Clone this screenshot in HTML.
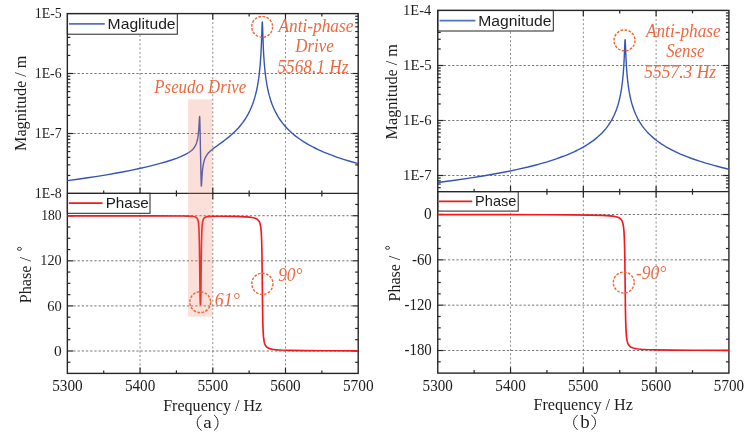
<!DOCTYPE html>
<html><head><meta charset="utf-8"><title>Frequency response</title><style>html,body{margin:0;padding:0;background:#fff;width:753px;height:433px;overflow:hidden}svg{display:block;will-change:transform}</style></head>
<body><svg width="753" height="433" viewBox="0 0 753 433"><defs><clipPath id="cL1"><rect x="66.55" y="13.6" width="292.45" height="179.8"/></clipPath><clipPath id="cL2"><rect x="66.55" y="193.4" width="292.45" height="179.99999999999997"/></clipPath><clipPath id="cR1"><rect x="436.95" y="10.4" width="292.74999999999994" height="181.29999999999998"/></clipPath><clipPath id="cR2"><rect x="436.95" y="191.7" width="292.74999999999994" height="181.40000000000003"/></clipPath></defs><rect x="0" y="0" width="753" height="433" fill="#fff"/>
<line x1="140.06" y1="13.60" x2="140.06" y2="193.40" stroke="#8a8a8a" stroke-width="1.0" stroke-dasharray="2 2.25"/>
<line x1="140.06" y1="193.40" x2="140.06" y2="373.40" stroke="#8a8a8a" stroke-width="1.0" stroke-dasharray="2 2.25"/>
<line x1="510.54" y1="10.40" x2="510.54" y2="191.70" stroke="#8a8a8a" stroke-width="1.0" stroke-dasharray="2 2.25"/>
<line x1="510.54" y1="191.70" x2="510.54" y2="373.10" stroke="#8a8a8a" stroke-width="1.0" stroke-dasharray="2 2.25"/>
<line x1="212.78" y1="13.60" x2="212.78" y2="193.40" stroke="#8a8a8a" stroke-width="1.0" stroke-dasharray="2 2.25"/>
<line x1="212.78" y1="193.40" x2="212.78" y2="373.40" stroke="#8a8a8a" stroke-width="1.0" stroke-dasharray="2 2.25"/>
<line x1="583.33" y1="10.40" x2="583.33" y2="191.70" stroke="#8a8a8a" stroke-width="1.0" stroke-dasharray="2 2.25"/>
<line x1="583.33" y1="191.70" x2="583.33" y2="373.10" stroke="#8a8a8a" stroke-width="1.0" stroke-dasharray="2 2.25"/>
<line x1="285.49" y1="13.60" x2="285.49" y2="193.40" stroke="#8a8a8a" stroke-width="1.0" stroke-dasharray="2 2.25"/>
<line x1="285.49" y1="193.40" x2="285.49" y2="373.40" stroke="#8a8a8a" stroke-width="1.0" stroke-dasharray="2 2.25"/>
<line x1="656.11" y1="10.40" x2="656.11" y2="191.70" stroke="#8a8a8a" stroke-width="1.0" stroke-dasharray="2 2.25"/>
<line x1="656.11" y1="191.70" x2="656.11" y2="373.10" stroke="#8a8a8a" stroke-width="1.0" stroke-dasharray="2 2.25"/>
<line x1="73.35" y1="73.50" x2="352.20" y2="73.50" stroke="#777777" stroke-width="1.0" stroke-dasharray="2.3 1.9"/>
<line x1="73.35" y1="133.50" x2="352.20" y2="133.50" stroke="#777777" stroke-width="1.0" stroke-dasharray="2.3 1.9"/>
<line x1="73.35" y1="215.73" x2="352.20" y2="215.73" stroke="#777777" stroke-width="1.0" stroke-dasharray="2.3 1.9"/>
<line x1="73.35" y1="260.82" x2="352.20" y2="260.82" stroke="#777777" stroke-width="1.0" stroke-dasharray="2.3 1.9"/>
<line x1="73.35" y1="305.91" x2="352.20" y2="305.91" stroke="#777777" stroke-width="1.0" stroke-dasharray="2.3 1.9"/>
<line x1="73.35" y1="351.00" x2="352.20" y2="351.00" stroke="#777777" stroke-width="1.0" stroke-dasharray="2.3 1.9"/>
<line x1="443.75" y1="65.50" x2="722.90" y2="65.50" stroke="#777777" stroke-width="1.0" stroke-dasharray="2.3 1.9"/>
<line x1="443.75" y1="120.50" x2="722.90" y2="120.50" stroke="#777777" stroke-width="1.0" stroke-dasharray="2.3 1.9"/>
<line x1="443.75" y1="175.50" x2="722.90" y2="175.50" stroke="#777777" stroke-width="1.0" stroke-dasharray="2.3 1.9"/>
<line x1="443.75" y1="214.50" x2="722.90" y2="214.50" stroke="#777777" stroke-width="1.0" stroke-dasharray="2.3 1.9"/>
<line x1="443.75" y1="259.84" x2="722.90" y2="259.84" stroke="#777777" stroke-width="1.0" stroke-dasharray="2.3 1.9"/>
<line x1="443.75" y1="305.17" x2="722.90" y2="305.17" stroke="#777777" stroke-width="1.0" stroke-dasharray="2.3 1.9"/>
<line x1="443.75" y1="350.51" x2="722.90" y2="350.51" stroke="#777777" stroke-width="1.0" stroke-dasharray="2.3 1.9"/>
<line x1="103.71" y1="193.40" x2="103.71" y2="190.40" stroke="#262626" stroke-width="1.2" />
<line x1="103.71" y1="13.60" x2="103.71" y2="16.60" stroke="#262626" stroke-width="1.2" />
<line x1="140.06" y1="193.40" x2="140.06" y2="187.60" stroke="#262626" stroke-width="1.2" />
<line x1="140.06" y1="13.60" x2="140.06" y2="19.40" stroke="#262626" stroke-width="1.2" />
<line x1="176.42" y1="193.40" x2="176.42" y2="190.40" stroke="#262626" stroke-width="1.2" />
<line x1="176.42" y1="13.60" x2="176.42" y2="16.60" stroke="#262626" stroke-width="1.2" />
<line x1="212.78" y1="193.40" x2="212.78" y2="187.60" stroke="#262626" stroke-width="1.2" />
<line x1="212.78" y1="13.60" x2="212.78" y2="19.40" stroke="#262626" stroke-width="1.2" />
<line x1="249.13" y1="193.40" x2="249.13" y2="190.40" stroke="#262626" stroke-width="1.2" />
<line x1="249.13" y1="13.60" x2="249.13" y2="16.60" stroke="#262626" stroke-width="1.2" />
<line x1="285.49" y1="193.40" x2="285.49" y2="187.60" stroke="#262626" stroke-width="1.2" />
<line x1="285.49" y1="13.60" x2="285.49" y2="19.40" stroke="#262626" stroke-width="1.2" />
<line x1="321.84" y1="193.40" x2="321.84" y2="190.40" stroke="#262626" stroke-width="1.2" />
<line x1="321.84" y1="13.60" x2="321.84" y2="16.60" stroke="#262626" stroke-width="1.2" />
<line x1="103.71" y1="373.40" x2="103.71" y2="370.40" stroke="#262626" stroke-width="1.2" />
<line x1="103.71" y1="193.40" x2="103.71" y2="196.40" stroke="#262626" stroke-width="1.2" />
<line x1="140.06" y1="373.40" x2="140.06" y2="367.60" stroke="#262626" stroke-width="1.2" />
<line x1="140.06" y1="193.40" x2="140.06" y2="199.20" stroke="#262626" stroke-width="1.2" />
<line x1="176.42" y1="373.40" x2="176.42" y2="370.40" stroke="#262626" stroke-width="1.2" />
<line x1="176.42" y1="193.40" x2="176.42" y2="196.40" stroke="#262626" stroke-width="1.2" />
<line x1="212.78" y1="373.40" x2="212.78" y2="367.60" stroke="#262626" stroke-width="1.2" />
<line x1="212.78" y1="193.40" x2="212.78" y2="199.20" stroke="#262626" stroke-width="1.2" />
<line x1="249.13" y1="373.40" x2="249.13" y2="370.40" stroke="#262626" stroke-width="1.2" />
<line x1="249.13" y1="193.40" x2="249.13" y2="196.40" stroke="#262626" stroke-width="1.2" />
<line x1="285.49" y1="373.40" x2="285.49" y2="367.60" stroke="#262626" stroke-width="1.2" />
<line x1="285.49" y1="193.40" x2="285.49" y2="199.20" stroke="#262626" stroke-width="1.2" />
<line x1="321.84" y1="373.40" x2="321.84" y2="370.40" stroke="#262626" stroke-width="1.2" />
<line x1="321.84" y1="193.40" x2="321.84" y2="196.40" stroke="#262626" stroke-width="1.2" />
<line x1="474.14" y1="191.70" x2="474.14" y2="188.70" stroke="#262626" stroke-width="1.2" />
<line x1="474.14" y1="10.40" x2="474.14" y2="13.40" stroke="#262626" stroke-width="1.2" />
<line x1="510.54" y1="191.70" x2="510.54" y2="185.90" stroke="#262626" stroke-width="1.2" />
<line x1="510.54" y1="10.40" x2="510.54" y2="16.20" stroke="#262626" stroke-width="1.2" />
<line x1="546.93" y1="191.70" x2="546.93" y2="188.70" stroke="#262626" stroke-width="1.2" />
<line x1="546.93" y1="10.40" x2="546.93" y2="13.40" stroke="#262626" stroke-width="1.2" />
<line x1="583.33" y1="191.70" x2="583.33" y2="185.90" stroke="#262626" stroke-width="1.2" />
<line x1="583.33" y1="10.40" x2="583.33" y2="16.20" stroke="#262626" stroke-width="1.2" />
<line x1="619.72" y1="191.70" x2="619.72" y2="188.70" stroke="#262626" stroke-width="1.2" />
<line x1="619.72" y1="10.40" x2="619.72" y2="13.40" stroke="#262626" stroke-width="1.2" />
<line x1="656.11" y1="191.70" x2="656.11" y2="185.90" stroke="#262626" stroke-width="1.2" />
<line x1="656.11" y1="10.40" x2="656.11" y2="16.20" stroke="#262626" stroke-width="1.2" />
<line x1="692.51" y1="191.70" x2="692.51" y2="188.70" stroke="#262626" stroke-width="1.2" />
<line x1="692.51" y1="10.40" x2="692.51" y2="13.40" stroke="#262626" stroke-width="1.2" />
<line x1="474.14" y1="373.10" x2="474.14" y2="370.10" stroke="#262626" stroke-width="1.2" />
<line x1="474.14" y1="191.70" x2="474.14" y2="194.70" stroke="#262626" stroke-width="1.2" />
<line x1="510.54" y1="373.10" x2="510.54" y2="367.30" stroke="#262626" stroke-width="1.2" />
<line x1="510.54" y1="191.70" x2="510.54" y2="197.50" stroke="#262626" stroke-width="1.2" />
<line x1="546.93" y1="373.10" x2="546.93" y2="370.10" stroke="#262626" stroke-width="1.2" />
<line x1="546.93" y1="191.70" x2="546.93" y2="194.70" stroke="#262626" stroke-width="1.2" />
<line x1="583.33" y1="373.10" x2="583.33" y2="367.30" stroke="#262626" stroke-width="1.2" />
<line x1="583.33" y1="191.70" x2="583.33" y2="197.50" stroke="#262626" stroke-width="1.2" />
<line x1="619.72" y1="373.10" x2="619.72" y2="370.10" stroke="#262626" stroke-width="1.2" />
<line x1="619.72" y1="191.70" x2="619.72" y2="194.70" stroke="#262626" stroke-width="1.2" />
<line x1="656.11" y1="373.10" x2="656.11" y2="367.30" stroke="#262626" stroke-width="1.2" />
<line x1="656.11" y1="191.70" x2="656.11" y2="197.50" stroke="#262626" stroke-width="1.2" />
<line x1="692.51" y1="373.10" x2="692.51" y2="370.10" stroke="#262626" stroke-width="1.2" />
<line x1="692.51" y1="191.70" x2="692.51" y2="194.70" stroke="#262626" stroke-width="1.2" />
<line x1="67.35" y1="175.44" x2="70.35" y2="175.44" stroke="#262626" stroke-width="1.2" />
<line x1="358.20" y1="175.44" x2="355.20" y2="175.44" stroke="#262626" stroke-width="1.2" />
<line x1="67.35" y1="164.87" x2="70.35" y2="164.87" stroke="#262626" stroke-width="1.2" />
<line x1="358.20" y1="164.87" x2="355.20" y2="164.87" stroke="#262626" stroke-width="1.2" />
<line x1="67.35" y1="157.38" x2="70.35" y2="157.38" stroke="#262626" stroke-width="1.2" />
<line x1="358.20" y1="157.38" x2="355.20" y2="157.38" stroke="#262626" stroke-width="1.2" />
<line x1="67.35" y1="151.56" x2="70.35" y2="151.56" stroke="#262626" stroke-width="1.2" />
<line x1="358.20" y1="151.56" x2="355.20" y2="151.56" stroke="#262626" stroke-width="1.2" />
<line x1="67.35" y1="146.81" x2="70.35" y2="146.81" stroke="#262626" stroke-width="1.2" />
<line x1="358.20" y1="146.81" x2="355.20" y2="146.81" stroke="#262626" stroke-width="1.2" />
<line x1="67.35" y1="142.79" x2="70.35" y2="142.79" stroke="#262626" stroke-width="1.2" />
<line x1="358.20" y1="142.79" x2="355.20" y2="142.79" stroke="#262626" stroke-width="1.2" />
<line x1="67.35" y1="139.31" x2="70.35" y2="139.31" stroke="#262626" stroke-width="1.2" />
<line x1="358.20" y1="139.31" x2="355.20" y2="139.31" stroke="#262626" stroke-width="1.2" />
<line x1="67.35" y1="136.25" x2="70.35" y2="136.25" stroke="#262626" stroke-width="1.2" />
<line x1="358.20" y1="136.25" x2="355.20" y2="136.25" stroke="#262626" stroke-width="1.2" />
<line x1="67.35" y1="133.50" x2="73.15" y2="133.50" stroke="#262626" stroke-width="1.2" />
<line x1="358.20" y1="133.50" x2="352.40" y2="133.50" stroke="#262626" stroke-width="1.2" />
<line x1="67.35" y1="115.44" x2="70.35" y2="115.44" stroke="#262626" stroke-width="1.2" />
<line x1="358.20" y1="115.44" x2="355.20" y2="115.44" stroke="#262626" stroke-width="1.2" />
<line x1="67.35" y1="104.87" x2="70.35" y2="104.87" stroke="#262626" stroke-width="1.2" />
<line x1="358.20" y1="104.87" x2="355.20" y2="104.87" stroke="#262626" stroke-width="1.2" />
<line x1="67.35" y1="97.38" x2="70.35" y2="97.38" stroke="#262626" stroke-width="1.2" />
<line x1="358.20" y1="97.38" x2="355.20" y2="97.38" stroke="#262626" stroke-width="1.2" />
<line x1="67.35" y1="91.56" x2="70.35" y2="91.56" stroke="#262626" stroke-width="1.2" />
<line x1="358.20" y1="91.56" x2="355.20" y2="91.56" stroke="#262626" stroke-width="1.2" />
<line x1="67.35" y1="86.81" x2="70.35" y2="86.81" stroke="#262626" stroke-width="1.2" />
<line x1="358.20" y1="86.81" x2="355.20" y2="86.81" stroke="#262626" stroke-width="1.2" />
<line x1="67.35" y1="82.79" x2="70.35" y2="82.79" stroke="#262626" stroke-width="1.2" />
<line x1="358.20" y1="82.79" x2="355.20" y2="82.79" stroke="#262626" stroke-width="1.2" />
<line x1="67.35" y1="79.31" x2="70.35" y2="79.31" stroke="#262626" stroke-width="1.2" />
<line x1="358.20" y1="79.31" x2="355.20" y2="79.31" stroke="#262626" stroke-width="1.2" />
<line x1="67.35" y1="76.25" x2="70.35" y2="76.25" stroke="#262626" stroke-width="1.2" />
<line x1="358.20" y1="76.25" x2="355.20" y2="76.25" stroke="#262626" stroke-width="1.2" />
<line x1="67.35" y1="73.50" x2="73.15" y2="73.50" stroke="#262626" stroke-width="1.2" />
<line x1="358.20" y1="73.50" x2="352.40" y2="73.50" stroke="#262626" stroke-width="1.2" />
<line x1="67.35" y1="55.44" x2="70.35" y2="55.44" stroke="#262626" stroke-width="1.2" />
<line x1="358.20" y1="55.44" x2="355.20" y2="55.44" stroke="#262626" stroke-width="1.2" />
<line x1="67.35" y1="44.87" x2="70.35" y2="44.87" stroke="#262626" stroke-width="1.2" />
<line x1="358.20" y1="44.87" x2="355.20" y2="44.87" stroke="#262626" stroke-width="1.2" />
<line x1="67.35" y1="37.38" x2="70.35" y2="37.38" stroke="#262626" stroke-width="1.2" />
<line x1="358.20" y1="37.38" x2="355.20" y2="37.38" stroke="#262626" stroke-width="1.2" />
<line x1="67.35" y1="31.56" x2="70.35" y2="31.56" stroke="#262626" stroke-width="1.2" />
<line x1="358.20" y1="31.56" x2="355.20" y2="31.56" stroke="#262626" stroke-width="1.2" />
<line x1="67.35" y1="26.81" x2="70.35" y2="26.81" stroke="#262626" stroke-width="1.2" />
<line x1="358.20" y1="26.81" x2="355.20" y2="26.81" stroke="#262626" stroke-width="1.2" />
<line x1="67.35" y1="22.79" x2="70.35" y2="22.79" stroke="#262626" stroke-width="1.2" />
<line x1="358.20" y1="22.79" x2="355.20" y2="22.79" stroke="#262626" stroke-width="1.2" />
<line x1="67.35" y1="19.31" x2="70.35" y2="19.31" stroke="#262626" stroke-width="1.2" />
<line x1="358.20" y1="19.31" x2="355.20" y2="19.31" stroke="#262626" stroke-width="1.2" />
<line x1="67.35" y1="16.25" x2="70.35" y2="16.25" stroke="#262626" stroke-width="1.2" />
<line x1="358.20" y1="16.25" x2="355.20" y2="16.25" stroke="#262626" stroke-width="1.2" />
<line x1="437.75" y1="187.70" x2="440.75" y2="187.70" stroke="#262626" stroke-width="1.2" />
<line x1="728.90" y1="187.70" x2="725.90" y2="187.70" stroke="#262626" stroke-width="1.2" />
<line x1="437.75" y1="184.02" x2="440.75" y2="184.02" stroke="#262626" stroke-width="1.2" />
<line x1="728.90" y1="184.02" x2="725.90" y2="184.02" stroke="#262626" stroke-width="1.2" />
<line x1="437.75" y1="180.83" x2="440.75" y2="180.83" stroke="#262626" stroke-width="1.2" />
<line x1="728.90" y1="180.83" x2="725.90" y2="180.83" stroke="#262626" stroke-width="1.2" />
<line x1="437.75" y1="178.02" x2="440.75" y2="178.02" stroke="#262626" stroke-width="1.2" />
<line x1="728.90" y1="178.02" x2="725.90" y2="178.02" stroke="#262626" stroke-width="1.2" />
<line x1="437.75" y1="175.50" x2="443.55" y2="175.50" stroke="#262626" stroke-width="1.2" />
<line x1="728.90" y1="175.50" x2="723.10" y2="175.50" stroke="#262626" stroke-width="1.2" />
<line x1="437.75" y1="158.94" x2="440.75" y2="158.94" stroke="#262626" stroke-width="1.2" />
<line x1="728.90" y1="158.94" x2="725.90" y2="158.94" stroke="#262626" stroke-width="1.2" />
<line x1="437.75" y1="149.26" x2="440.75" y2="149.26" stroke="#262626" stroke-width="1.2" />
<line x1="728.90" y1="149.26" x2="725.90" y2="149.26" stroke="#262626" stroke-width="1.2" />
<line x1="437.75" y1="142.39" x2="440.75" y2="142.39" stroke="#262626" stroke-width="1.2" />
<line x1="728.90" y1="142.39" x2="725.90" y2="142.39" stroke="#262626" stroke-width="1.2" />
<line x1="437.75" y1="137.06" x2="440.75" y2="137.06" stroke="#262626" stroke-width="1.2" />
<line x1="728.90" y1="137.06" x2="725.90" y2="137.06" stroke="#262626" stroke-width="1.2" />
<line x1="437.75" y1="132.70" x2="440.75" y2="132.70" stroke="#262626" stroke-width="1.2" />
<line x1="728.90" y1="132.70" x2="725.90" y2="132.70" stroke="#262626" stroke-width="1.2" />
<line x1="437.75" y1="129.02" x2="440.75" y2="129.02" stroke="#262626" stroke-width="1.2" />
<line x1="728.90" y1="129.02" x2="725.90" y2="129.02" stroke="#262626" stroke-width="1.2" />
<line x1="437.75" y1="125.83" x2="440.75" y2="125.83" stroke="#262626" stroke-width="1.2" />
<line x1="728.90" y1="125.83" x2="725.90" y2="125.83" stroke="#262626" stroke-width="1.2" />
<line x1="437.75" y1="123.02" x2="440.75" y2="123.02" stroke="#262626" stroke-width="1.2" />
<line x1="728.90" y1="123.02" x2="725.90" y2="123.02" stroke="#262626" stroke-width="1.2" />
<line x1="437.75" y1="120.50" x2="443.55" y2="120.50" stroke="#262626" stroke-width="1.2" />
<line x1="728.90" y1="120.50" x2="723.10" y2="120.50" stroke="#262626" stroke-width="1.2" />
<line x1="437.75" y1="103.94" x2="440.75" y2="103.94" stroke="#262626" stroke-width="1.2" />
<line x1="728.90" y1="103.94" x2="725.90" y2="103.94" stroke="#262626" stroke-width="1.2" />
<line x1="437.75" y1="94.26" x2="440.75" y2="94.26" stroke="#262626" stroke-width="1.2" />
<line x1="728.90" y1="94.26" x2="725.90" y2="94.26" stroke="#262626" stroke-width="1.2" />
<line x1="437.75" y1="87.39" x2="440.75" y2="87.39" stroke="#262626" stroke-width="1.2" />
<line x1="728.90" y1="87.39" x2="725.90" y2="87.39" stroke="#262626" stroke-width="1.2" />
<line x1="437.75" y1="82.06" x2="440.75" y2="82.06" stroke="#262626" stroke-width="1.2" />
<line x1="728.90" y1="82.06" x2="725.90" y2="82.06" stroke="#262626" stroke-width="1.2" />
<line x1="437.75" y1="77.70" x2="440.75" y2="77.70" stroke="#262626" stroke-width="1.2" />
<line x1="728.90" y1="77.70" x2="725.90" y2="77.70" stroke="#262626" stroke-width="1.2" />
<line x1="437.75" y1="74.02" x2="440.75" y2="74.02" stroke="#262626" stroke-width="1.2" />
<line x1="728.90" y1="74.02" x2="725.90" y2="74.02" stroke="#262626" stroke-width="1.2" />
<line x1="437.75" y1="70.83" x2="440.75" y2="70.83" stroke="#262626" stroke-width="1.2" />
<line x1="728.90" y1="70.83" x2="725.90" y2="70.83" stroke="#262626" stroke-width="1.2" />
<line x1="437.75" y1="68.02" x2="440.75" y2="68.02" stroke="#262626" stroke-width="1.2" />
<line x1="728.90" y1="68.02" x2="725.90" y2="68.02" stroke="#262626" stroke-width="1.2" />
<line x1="437.75" y1="65.50" x2="443.55" y2="65.50" stroke="#262626" stroke-width="1.2" />
<line x1="728.90" y1="65.50" x2="723.10" y2="65.50" stroke="#262626" stroke-width="1.2" />
<line x1="437.75" y1="48.94" x2="440.75" y2="48.94" stroke="#262626" stroke-width="1.2" />
<line x1="728.90" y1="48.94" x2="725.90" y2="48.94" stroke="#262626" stroke-width="1.2" />
<line x1="437.75" y1="39.26" x2="440.75" y2="39.26" stroke="#262626" stroke-width="1.2" />
<line x1="728.90" y1="39.26" x2="725.90" y2="39.26" stroke="#262626" stroke-width="1.2" />
<line x1="437.75" y1="32.39" x2="440.75" y2="32.39" stroke="#262626" stroke-width="1.2" />
<line x1="728.90" y1="32.39" x2="725.90" y2="32.39" stroke="#262626" stroke-width="1.2" />
<line x1="437.75" y1="27.06" x2="440.75" y2="27.06" stroke="#262626" stroke-width="1.2" />
<line x1="728.90" y1="27.06" x2="725.90" y2="27.06" stroke="#262626" stroke-width="1.2" />
<line x1="437.75" y1="22.70" x2="440.75" y2="22.70" stroke="#262626" stroke-width="1.2" />
<line x1="728.90" y1="22.70" x2="725.90" y2="22.70" stroke="#262626" stroke-width="1.2" />
<line x1="437.75" y1="19.02" x2="440.75" y2="19.02" stroke="#262626" stroke-width="1.2" />
<line x1="728.90" y1="19.02" x2="725.90" y2="19.02" stroke="#262626" stroke-width="1.2" />
<line x1="437.75" y1="15.83" x2="440.75" y2="15.83" stroke="#262626" stroke-width="1.2" />
<line x1="728.90" y1="15.83" x2="725.90" y2="15.83" stroke="#262626" stroke-width="1.2" />
<line x1="437.75" y1="13.02" x2="440.75" y2="13.02" stroke="#262626" stroke-width="1.2" />
<line x1="728.90" y1="13.02" x2="725.90" y2="13.02" stroke="#262626" stroke-width="1.2" />
<line x1="67.35" y1="362.27" x2="70.35" y2="362.27" stroke="#262626" stroke-width="1.2" />
<line x1="358.20" y1="362.27" x2="355.20" y2="362.27" stroke="#262626" stroke-width="1.2" />
<line x1="67.35" y1="351.00" x2="73.15" y2="351.00" stroke="#262626" stroke-width="1.2" />
<line x1="358.20" y1="351.00" x2="352.40" y2="351.00" stroke="#262626" stroke-width="1.2" />
<line x1="67.35" y1="339.73" x2="70.35" y2="339.73" stroke="#262626" stroke-width="1.2" />
<line x1="358.20" y1="339.73" x2="355.20" y2="339.73" stroke="#262626" stroke-width="1.2" />
<line x1="67.35" y1="328.45" x2="70.35" y2="328.45" stroke="#262626" stroke-width="1.2" />
<line x1="358.20" y1="328.45" x2="355.20" y2="328.45" stroke="#262626" stroke-width="1.2" />
<line x1="67.35" y1="317.18" x2="70.35" y2="317.18" stroke="#262626" stroke-width="1.2" />
<line x1="358.20" y1="317.18" x2="355.20" y2="317.18" stroke="#262626" stroke-width="1.2" />
<line x1="67.35" y1="305.91" x2="73.15" y2="305.91" stroke="#262626" stroke-width="1.2" />
<line x1="358.20" y1="305.91" x2="352.40" y2="305.91" stroke="#262626" stroke-width="1.2" />
<line x1="67.35" y1="294.64" x2="70.35" y2="294.64" stroke="#262626" stroke-width="1.2" />
<line x1="358.20" y1="294.64" x2="355.20" y2="294.64" stroke="#262626" stroke-width="1.2" />
<line x1="67.35" y1="283.37" x2="70.35" y2="283.37" stroke="#262626" stroke-width="1.2" />
<line x1="358.20" y1="283.37" x2="355.20" y2="283.37" stroke="#262626" stroke-width="1.2" />
<line x1="67.35" y1="272.09" x2="70.35" y2="272.09" stroke="#262626" stroke-width="1.2" />
<line x1="358.20" y1="272.09" x2="355.20" y2="272.09" stroke="#262626" stroke-width="1.2" />
<line x1="67.35" y1="260.82" x2="73.15" y2="260.82" stroke="#262626" stroke-width="1.2" />
<line x1="358.20" y1="260.82" x2="352.40" y2="260.82" stroke="#262626" stroke-width="1.2" />
<line x1="67.35" y1="249.55" x2="70.35" y2="249.55" stroke="#262626" stroke-width="1.2" />
<line x1="358.20" y1="249.55" x2="355.20" y2="249.55" stroke="#262626" stroke-width="1.2" />
<line x1="67.35" y1="238.28" x2="70.35" y2="238.28" stroke="#262626" stroke-width="1.2" />
<line x1="358.20" y1="238.28" x2="355.20" y2="238.28" stroke="#262626" stroke-width="1.2" />
<line x1="67.35" y1="227.00" x2="70.35" y2="227.00" stroke="#262626" stroke-width="1.2" />
<line x1="358.20" y1="227.00" x2="355.20" y2="227.00" stroke="#262626" stroke-width="1.2" />
<line x1="67.35" y1="215.73" x2="73.15" y2="215.73" stroke="#262626" stroke-width="1.2" />
<line x1="358.20" y1="215.73" x2="352.40" y2="215.73" stroke="#262626" stroke-width="1.2" />
<line x1="67.35" y1="204.46" x2="70.35" y2="204.46" stroke="#262626" stroke-width="1.2" />
<line x1="358.20" y1="204.46" x2="355.20" y2="204.46" stroke="#262626" stroke-width="1.2" />
<line x1="437.75" y1="361.84" x2="440.75" y2="361.84" stroke="#262626" stroke-width="1.2" />
<line x1="728.90" y1="361.84" x2="725.90" y2="361.84" stroke="#262626" stroke-width="1.2" />
<line x1="437.75" y1="350.51" x2="443.55" y2="350.51" stroke="#262626" stroke-width="1.2" />
<line x1="728.90" y1="350.51" x2="723.10" y2="350.51" stroke="#262626" stroke-width="1.2" />
<line x1="437.75" y1="339.17" x2="440.75" y2="339.17" stroke="#262626" stroke-width="1.2" />
<line x1="728.90" y1="339.17" x2="725.90" y2="339.17" stroke="#262626" stroke-width="1.2" />
<line x1="437.75" y1="327.84" x2="440.75" y2="327.84" stroke="#262626" stroke-width="1.2" />
<line x1="728.90" y1="327.84" x2="725.90" y2="327.84" stroke="#262626" stroke-width="1.2" />
<line x1="437.75" y1="316.51" x2="440.75" y2="316.51" stroke="#262626" stroke-width="1.2" />
<line x1="728.90" y1="316.51" x2="725.90" y2="316.51" stroke="#262626" stroke-width="1.2" />
<line x1="437.75" y1="305.17" x2="443.55" y2="305.17" stroke="#262626" stroke-width="1.2" />
<line x1="728.90" y1="305.17" x2="723.10" y2="305.17" stroke="#262626" stroke-width="1.2" />
<line x1="437.75" y1="293.84" x2="440.75" y2="293.84" stroke="#262626" stroke-width="1.2" />
<line x1="728.90" y1="293.84" x2="725.90" y2="293.84" stroke="#262626" stroke-width="1.2" />
<line x1="437.75" y1="282.50" x2="440.75" y2="282.50" stroke="#262626" stroke-width="1.2" />
<line x1="728.90" y1="282.50" x2="725.90" y2="282.50" stroke="#262626" stroke-width="1.2" />
<line x1="437.75" y1="271.17" x2="440.75" y2="271.17" stroke="#262626" stroke-width="1.2" />
<line x1="728.90" y1="271.17" x2="725.90" y2="271.17" stroke="#262626" stroke-width="1.2" />
<line x1="437.75" y1="259.84" x2="443.55" y2="259.84" stroke="#262626" stroke-width="1.2" />
<line x1="728.90" y1="259.84" x2="723.10" y2="259.84" stroke="#262626" stroke-width="1.2" />
<line x1="437.75" y1="248.50" x2="440.75" y2="248.50" stroke="#262626" stroke-width="1.2" />
<line x1="728.90" y1="248.50" x2="725.90" y2="248.50" stroke="#262626" stroke-width="1.2" />
<line x1="437.75" y1="237.17" x2="440.75" y2="237.17" stroke="#262626" stroke-width="1.2" />
<line x1="728.90" y1="237.17" x2="725.90" y2="237.17" stroke="#262626" stroke-width="1.2" />
<line x1="437.75" y1="225.83" x2="440.75" y2="225.83" stroke="#262626" stroke-width="1.2" />
<line x1="728.90" y1="225.83" x2="725.90" y2="225.83" stroke="#262626" stroke-width="1.2" />
<line x1="437.75" y1="214.50" x2="443.55" y2="214.50" stroke="#262626" stroke-width="1.2" />
<line x1="728.90" y1="214.50" x2="723.10" y2="214.50" stroke="#262626" stroke-width="1.2" />
<line x1="437.75" y1="203.17" x2="440.75" y2="203.17" stroke="#262626" stroke-width="1.2" />
<line x1="728.90" y1="203.17" x2="725.90" y2="203.17" stroke="#262626" stroke-width="1.2" />
<rect x="67.35" y="13.60" width="109.95" height="20.60" fill="#fff" stroke="#222" stroke-width="1.0"/>
<line x1="69.00" y1="23.90" x2="104.80" y2="23.90" stroke="#5570c0" stroke-width="1.8" />
<rect x="67.35" y="193.30" width="82.65" height="20.00" fill="#fff" stroke="#222" stroke-width="1.0"/>
<line x1="68.80" y1="203.10" x2="102.50" y2="203.10" stroke="#f01a1e" stroke-width="1.8" />
<rect x="437.75" y="10.40" width="115.55" height="20.60" fill="#fff" stroke="#222" stroke-width="1.0"/>
<line x1="439.50" y1="20.70" x2="475.40" y2="20.70" stroke="#5570c0" stroke-width="1.8" />
<rect x="437.75" y="191.70" width="80.45" height="19.40" fill="#fff" stroke="#222" stroke-width="1.0"/>
<line x1="439.00" y1="201.40" x2="472.20" y2="201.40" stroke="#f01a1e" stroke-width="1.8" />
<rect x="67.35" y="13.60" width="290.85" height="359.80" fill="none" stroke="#262626" stroke-width="1.4"/>
<line x1="67.35" y1="193.40" x2="358.20" y2="193.40" stroke="#262626" stroke-width="1.3" />
<rect x="437.75" y="10.40" width="291.15" height="362.70" fill="none" stroke="#262626" stroke-width="1.4"/>
<line x1="437.75" y1="191.70" x2="728.90" y2="191.70" stroke="#262626" stroke-width="1.3" />
<path d="M67.35,180.67 L77.75,179.26 L87.71,177.81 L97.31,176.34 L106.54,174.83 L115.34,173.30 L123.77,171.74 L131.85,170.14 L139.48,168.52 L146.82,166.85 L153.73,165.15 L160.20,163.43 L166.17,161.71 L171.62,159.99 L176.49,158.29 L180.78,156.60 L184.42,154.97 L186.82,153.72 L188.85,152.51 L190.60,151.28 L192.10,150.02 L193.38,148.68 L194.47,147.26 L195.39,145.71 L196.17,143.98 L196.81,142.13 L197.35,140.05 L197.82,137.66 L198.21,134.93 L198.78,129.14 L199.45,117.97 L199.62,116.47 L199.70,116.90 L199.78,118.31 L199.96,124.52 L201.07,179.83 L201.22,184.62 L201.30,185.70 L201.37,186.01 L201.54,184.58 L202.00,176.67 L202.33,172.23 L202.70,168.48 L203.15,165.30 L203.74,162.33 L204.46,159.79 L205.34,157.57 L206.42,155.59 L207.32,154.29 L208.36,153.02 L209.57,151.75 L210.99,150.45 L214.01,148.03 L223.61,141.07 L228.70,137.10 L231.39,134.81 L233.86,132.55 L236.19,130.25 L238.37,127.92 L240.62,125.29 L242.75,122.56 L244.72,119.76 L246.55,116.87 L248.24,113.88 L249.81,110.77 L251.26,107.55 L252.59,104.19 L253.71,100.98 L254.74,97.63 L255.69,94.15 L256.56,90.50 L257.34,86.68 L258.05,82.66 L258.70,78.41 L259.27,73.94 L260.18,64.90 L260.90,54.61 L261.46,43.00 L262.11,24.38 L262.20,22.58 L262.29,22.02 L262.39,22.67 L262.50,24.81 L263.34,48.04 L263.71,54.96 L264.12,61.28 L264.68,67.96 L265.34,74.08 L266.09,79.75 L266.95,85.04 L268.00,90.28 L269.19,95.18 L270.53,99.81 L272.04,104.16 L273.72,108.29 L275.58,112.21 L277.63,115.94 L279.89,119.51 L282.51,123.11 L285.34,126.52 L288.47,129.83 L291.89,133.02 L295.59,136.09 L299.59,139.04 L303.88,141.88 L308.46,144.60 L313.41,147.25 L318.72,149.82 L324.32,152.29 L330.35,154.71 L336.75,157.06 L343.51,159.33 L350.64,161.53 L358.20,163.69" fill="none" stroke="#3455b5" stroke-width="1.4" stroke-linejoin="round" clip-path="url(#cL1)"/>
<path d="M67.35,215.81 L151.33,215.89 L183.18,216.02 L189.00,216.14 L192.49,216.35 L193.72,216.52 L194.70,216.73 L195.49,217.00 L196.15,217.36 L196.79,217.91 L197.31,218.63 L197.73,219.57 L198.07,220.77 L198.36,222.27 L198.60,224.18 L198.97,229.49 L199.22,236.46 L199.42,246.30 L200.05,295.39 L200.23,302.24 L200.33,303.95 L200.43,304.52 L200.54,303.87 L200.64,302.00 L200.83,294.77 L201.41,248.45 L201.59,239.16 L201.79,232.32 L202.08,226.73 L202.47,222.87 L202.71,221.43 L203.00,220.27 L203.33,219.32 L203.73,218.56 L204.35,217.83 L205.14,217.28 L206.15,216.89 L207.48,216.62 L209.23,216.43 L211.60,216.31 L219.32,216.23 L235.03,216.41 L241.06,216.59 L245.80,216.83 L249.37,217.13 L252.18,217.51 L254.37,218.00 L256.09,218.62 L257.28,219.30 L258.23,220.13 L259.01,221.17 L259.64,222.43 L260.15,224.00 L260.57,225.94 L260.91,228.33 L261.19,231.29 L261.59,238.79 L261.89,250.02 L262.10,264.70 L262.59,310.38 L262.80,321.49 L263.05,329.43 L263.45,336.17 L263.71,338.71 L264.02,340.80 L264.38,342.54 L264.82,343.98 L265.35,345.19 L265.99,346.18 L266.83,347.06 L267.85,347.79 L269.11,348.38 L270.65,348.86 L272.53,349.25 L274.84,349.57 L277.66,349.84 L281.12,350.05 L290.58,350.37 L304.76,350.58 L326.06,350.72 L358.20,350.81" fill="none" stroke="#f01a1e" stroke-width="1.65" stroke-linejoin="round" clip-path="url(#cL2)"/>
<path d="M437.75,182.44 L453.11,180.44 L467.67,178.38 L481.35,176.24 L494.16,174.05 L506.24,171.78 L517.53,169.43 L528.08,166.99 L537.98,164.45 L547.15,161.82 L555.59,159.11 L563.41,156.28 L567.10,154.82 L570.63,153.33 L574.02,151.81 L577.26,150.25 L580.36,148.66 L583.33,147.03 L586.16,145.36 L588.86,143.66 L591.40,141.93 L593.88,140.11 L596.06,138.39 L598.17,136.59 L600.14,134.79 L602.03,132.91 L603.78,131.04 L605.45,129.09 L607.05,127.07 L608.58,124.96 L610.04,122.76 L611.35,120.59 L612.59,118.34 L613.75,116.02 L614.85,113.59 L615.88,111.08 L616.83,108.49 L617.72,105.79 L618.50,103.12 L619.23,100.35 L620.52,94.47 L621.61,88.06 L622.52,81.02 L623.21,73.97 L623.78,66.09 L624.26,57.10 L624.89,42.00 L625.00,40.17 L625.11,39.60 L625.21,40.25 L625.33,42.22 L625.88,55.65 L626.27,63.33 L626.67,69.66 L627.12,75.37 L627.73,81.45 L628.45,87.05 L629.27,92.23 L630.21,97.06 L631.35,101.84 L632.65,106.33 L634.11,110.56 L635.75,114.54 L637.57,118.32 L639.59,121.91 L641.82,125.34 L644.27,128.60 L647.11,131.91 L650.22,135.07 L653.64,138.13 L657.28,141.01 L661.28,143.82 L665.57,146.52 L670.23,149.13 L675.18,151.63 L680.50,154.06 L686.25,156.43 L692.36,158.73 L698.84,160.94 L705.75,163.10 L713.03,165.19 L720.75,167.22 L728.90,169.20" fill="none" stroke="#3455b5" stroke-width="1.4" stroke-linejoin="round" clip-path="url(#cR1)"/>
<path d="M437.75,214.60 L544.09,214.74 L571.85,214.87 L590.09,215.07 L602.10,215.37 L606.47,215.57 L609.97,215.82 L612.83,216.13 L615.15,216.51 L617.04,216.98 L618.57,217.56 L619.79,218.26 L620.79,219.12 L621.60,220.18 L622.26,221.48 L622.80,223.07 L623.24,225.04 L623.61,227.46 L623.90,230.42 L624.34,237.98 L624.66,249.22 L624.89,263.98 L625.44,309.39 L625.67,320.62 L625.94,328.64 L626.38,335.46 L626.67,338.03 L627.00,340.14 L627.41,341.91 L627.89,343.36 L628.46,344.58 L629.16,345.58 L630.08,346.49 L631.20,347.22 L632.57,347.82 L634.25,348.32 L636.30,348.72 L638.81,349.04 L641.89,349.31 L645.66,349.53 L655.89,349.85 L671.33,350.07 L694.40,350.22 L728.90,350.31" fill="none" stroke="#f01a1e" stroke-width="1.65" stroke-linejoin="round" clip-path="url(#cR2)"/>
<rect x="188.0" y="99.3" width="24.30" height="217.40" fill="rgba(238,125,100,0.24)"/>
<circle cx="262.2" cy="26.8" r="10.45" fill="none" stroke="#ec6a3a" stroke-width="1.45" stroke-dasharray="2.7 1.4"/>
<circle cx="200.2" cy="302.2" r="10.4" fill="none" stroke="#ec6a3a" stroke-width="1.45" stroke-dasharray="2.7 1.4"/>
<circle cx="262.4" cy="283.8" r="10.6" fill="none" stroke="#ec6a3a" stroke-width="1.45" stroke-dasharray="2.7 1.4"/>
<circle cx="624.5" cy="40.4" r="10.5" fill="none" stroke="#ec6a3a" stroke-width="1.45" stroke-dasharray="2.7 1.4"/>
<circle cx="623.75" cy="282.55" r="10.45" fill="none" stroke="#ec6a3a" stroke-width="1.45" stroke-dasharray="2.7 1.4"/>
<ellipse cx="19.45" cy="248.85" rx="2.0" ry="1.5" fill="none" stroke="#1c1c1c" stroke-width="0.85"/>
<ellipse cx="387.55" cy="247.85" rx="2.0" ry="1.5" fill="none" stroke="#1c1c1c" stroke-width="0.85"/>
<path d="M201.5,415.2 C195.77,418.54 195.77,427.06 201.5,430.4" fill="none" stroke="#222" stroke-width="1.0"/>
<path d="M214.1,415.2 C219.30,418.54 219.30,427.06 214.1,430.4" fill="none" stroke="#222" stroke-width="1.0"/>
<path d="M577.7,415.2 C572.23,418.39 572.23,426.51 577.7,429.7" fill="none" stroke="#222" stroke-width="1.0"/>
<path d="M591.4,415.2 C596.87,418.39 596.87,426.51 591.4,429.7" fill="none" stroke="#222" stroke-width="1.0"/>
<text class="tx" x="34.75" y="17.90" font-family="Liberation Serif" font-size="14.3" fill="#1c1c1c" textLength="27.04" lengthAdjust="spacingAndGlyphs">1E-5</text>
<text class="tx" x="34.76" y="77.90" font-family="Liberation Serif" font-size="14.3" fill="#1c1c1c" textLength="26.80" lengthAdjust="spacingAndGlyphs">1E-6</text>
<text class="tx" x="34.76" y="137.90" font-family="Liberation Serif" font-size="14.3" fill="#1c1c1c" textLength="26.78" lengthAdjust="spacingAndGlyphs">1E-7</text>
<text class="tx" x="34.75" y="197.90" font-family="Liberation Serif" font-size="14.3" fill="#1c1c1c" textLength="26.99" lengthAdjust="spacingAndGlyphs">1E-8</text>
<text class="tx" x="41.17" y="220.33" font-family="Liberation Serif" font-size="14.3" fill="#1c1c1c" textLength="20.40" lengthAdjust="spacingAndGlyphs">180</text>
<text class="tx" x="40.32" y="265.42" font-family="Liberation Serif" font-size="14.3" fill="#1c1c1c" textLength="21.34" lengthAdjust="spacingAndGlyphs">120</text>
<text class="tx" x="47.21" y="310.51" font-family="Liberation Serif" font-size="14.3" fill="#1c1c1c" textLength="14.52" lengthAdjust="spacingAndGlyphs">60</text>
<text class="tx" x="53.99" y="355.60" font-family="Liberation Serif" font-size="14.3" fill="#1c1c1c" textLength="7.73" lengthAdjust="spacingAndGlyphs">0</text>
<text class="tx" x="403.10" y="15.10" font-family="Liberation Serif" font-size="15.2" fill="#1c1c1c" textLength="28.26" lengthAdjust="spacingAndGlyphs">1E-4</text>
<text class="tx" x="403.06" y="70.10" font-family="Liberation Serif" font-size="15.2" fill="#1c1c1c" textLength="28.72" lengthAdjust="spacingAndGlyphs">1E-5</text>
<text class="tx" x="403.08" y="125.10" font-family="Liberation Serif" font-size="15.2" fill="#1c1c1c" textLength="28.47" lengthAdjust="spacingAndGlyphs">1E-6</text>
<text class="tx" x="403.08" y="180.10" font-family="Liberation Serif" font-size="15.2" fill="#1c1c1c" textLength="28.46" lengthAdjust="spacingAndGlyphs">1E-7</text>
<text class="tx" x="423.99" y="219.20" font-family="Liberation Serif" font-size="15.8" fill="#1c1c1c" textLength="7.66" lengthAdjust="spacingAndGlyphs">0</text>
<text class="tx" x="411.96" y="264.54" font-family="Liberation Serif" font-size="15.8" fill="#1c1c1c" textLength="19.85" lengthAdjust="spacingAndGlyphs">-60</text>
<text class="tx" x="404.53" y="309.87" font-family="Liberation Serif" font-size="15.8" fill="#1c1c1c" textLength="27.31" lengthAdjust="spacingAndGlyphs">-120</text>
<text class="tx" x="404.53" y="355.21" font-family="Liberation Serif" font-size="15.8" fill="#1c1c1c" textLength="27.31" lengthAdjust="spacingAndGlyphs">-180</text>
<text class="tx" x="52.16" y="391.40" font-family="Liberation Serif" font-size="16.4" fill="#1c1c1c" textLength="30.54" lengthAdjust="spacingAndGlyphs">5300</text>
<text class="tx" x="422.62" y="390.90" font-family="Liberation Serif" font-size="16.4" fill="#1c1c1c" textLength="30.17" lengthAdjust="spacingAndGlyphs">5300</text>
<text class="tx" x="124.92" y="391.40" font-family="Liberation Serif" font-size="16.4" fill="#1c1c1c" textLength="30.38" lengthAdjust="spacingAndGlyphs">5400</text>
<text class="tx" x="495.35" y="390.90" font-family="Liberation Serif" font-size="16.4" fill="#1c1c1c" textLength="30.42" lengthAdjust="spacingAndGlyphs">5400</text>
<text class="tx" x="197.47" y="391.40" font-family="Liberation Serif" font-size="16.4" fill="#1c1c1c" textLength="30.59" lengthAdjust="spacingAndGlyphs">5500</text>
<text class="tx" x="568.00" y="390.90" font-family="Liberation Serif" font-size="16.4" fill="#1c1c1c" textLength="30.46" lengthAdjust="spacingAndGlyphs">5500</text>
<text class="tx" x="270.15" y="391.40" font-family="Liberation Serif" font-size="16.4" fill="#1c1c1c" textLength="30.62" lengthAdjust="spacingAndGlyphs">5600</text>
<text class="tx" x="640.99" y="390.90" font-family="Liberation Serif" font-size="16.4" fill="#1c1c1c" textLength="30.19" lengthAdjust="spacingAndGlyphs">5600</text>
<text class="tx" x="342.91" y="391.40" font-family="Liberation Serif" font-size="16.4" fill="#1c1c1c" textLength="30.68" lengthAdjust="spacingAndGlyphs">5700</text>
<text class="tx" x="713.86" y="390.90" font-family="Liberation Serif" font-size="16.4" fill="#1c1c1c" textLength="30.17" lengthAdjust="spacingAndGlyphs">5700</text>
<text class="tx" x="163.20" y="410.50" font-family="Liberation Serif" font-size="16" fill="#1c1c1c" textLength="98.94" lengthAdjust="spacingAndGlyphs">Frequency / Hz</text>
<text class="tx" x="533.50" y="410.20" font-family="Liberation Serif" font-size="16" fill="#1c1c1c" textLength="99.36" lengthAdjust="spacingAndGlyphs">Frequency / Hz</text>
<text class="tx" x="203.17" y="427.90" font-family="Liberation Serif" font-size="17.6" fill="#1c1c1c" textLength="8.45" lengthAdjust="spacingAndGlyphs">a</text>
<text class="tx" x="580.19" y="427.70" font-family="Liberation Serif" font-size="18" fill="#1c1c1c" textLength="9.43" lengthAdjust="spacingAndGlyphs">b</text>
<text class="tx" transform="translate(25.80,150.99) rotate(-90)" x="0" y="0" font-family="Liberation Serif" font-size="16" fill="#1c1c1c" textLength="95.48" lengthAdjust="spacingAndGlyphs">Magnitude / m</text>
<text class="tx" transform="translate(31.00,303.28) rotate(-90)" x="0" y="0" font-family="Liberation Serif" font-size="16" fill="#1c1c1c" textLength="46.19" lengthAdjust="spacingAndGlyphs">Phase /</text>
<text class="tx" transform="translate(397.40,139.40) rotate(-90)" x="0" y="0" font-family="Liberation Serif" font-size="16" fill="#1c1c1c" textLength="95.34" lengthAdjust="spacingAndGlyphs">Magnitude / m</text>
<text class="tx" transform="translate(399.70,301.40) rotate(-90)" x="0" y="0" font-family="Liberation Serif" font-size="16" fill="#1c1c1c" textLength="45.54" lengthAdjust="spacingAndGlyphs">Phase /</text>
<text class="tx" x="107.64" y="28.90" font-family="Liberation Sans" font-size="14.8" fill="#1c1c1c" textLength="67.95" lengthAdjust="spacingAndGlyphs">Maglitude</text>
<text class="tx" x="105.65" y="208.20" font-family="Liberation Sans" font-size="14.1" fill="#1c1c1c" textLength="43.19" lengthAdjust="spacingAndGlyphs">Phase</text>
<text class="tx" x="478.31" y="25.90" font-family="Liberation Sans" font-size="14.9" fill="#1c1c1c" textLength="73.05" lengthAdjust="spacingAndGlyphs">Magnitude</text>
<text class="tx" x="475.14" y="206.20" font-family="Liberation Sans" font-size="14.1" fill="#1c1c1c" textLength="41.29" lengthAdjust="spacingAndGlyphs">Phase</text>
<text class="tx" x="278.47" y="31.60" font-family="Liberation Serif" font-size="17.8" font-style="italic" fill="#eb6a42" textLength="74.98" lengthAdjust="spacingAndGlyphs">Anti-phase</text>
<text class="tx" x="295.18" y="52.00" font-family="Liberation Serif" font-size="17.8" font-style="italic" fill="#eb6a42" textLength="38.53" lengthAdjust="spacingAndGlyphs">Drive</text>
<text class="tx" x="277.40" y="72.70" font-family="Liberation Serif" font-size="17.8" font-style="italic" fill="#eb6a42" textLength="71.20" lengthAdjust="spacingAndGlyphs">5568.1 Hz</text>
<text class="tx" x="154.33" y="92.60" font-family="Liberation Serif" font-size="17.8" font-style="italic" fill="#eb6a42" textLength="91.94" lengthAdjust="spacingAndGlyphs">Pseudo Drive</text>
<text class="tx" x="214.86" y="306.40" font-family="Liberation Serif" font-size="17.8" font-style="italic" fill="#eb6a42" textLength="25.00" lengthAdjust="spacingAndGlyphs">61°</text>
<text class="tx" x="278.14" y="281.20" font-family="Liberation Serif" font-size="17.8" font-style="italic" fill="#eb6a42" textLength="24.38" lengthAdjust="spacingAndGlyphs">90°</text>
<text class="tx" x="645.99" y="37.10" font-family="Liberation Serif" font-size="17.8" font-style="italic" fill="#eb6a42" textLength="74.65" lengthAdjust="spacingAndGlyphs">Anti-phase</text>
<text class="tx" x="666.20" y="57.30" font-family="Liberation Serif" font-size="17.8" font-style="italic" fill="#eb6a42" textLength="38.29" lengthAdjust="spacingAndGlyphs">Sense</text>
<text class="tx" x="644.23" y="77.60" font-family="Liberation Serif" font-size="17.8" font-style="italic" fill="#eb6a42" textLength="71.87" lengthAdjust="spacingAndGlyphs">5557.3 Hz</text>
<text class="tx" x="635.90" y="279.00" font-family="Liberation Serif" font-size="17.8" font-style="italic" fill="#eb6a42" textLength="30.45" lengthAdjust="spacingAndGlyphs">-90°</text></svg></body></html>
